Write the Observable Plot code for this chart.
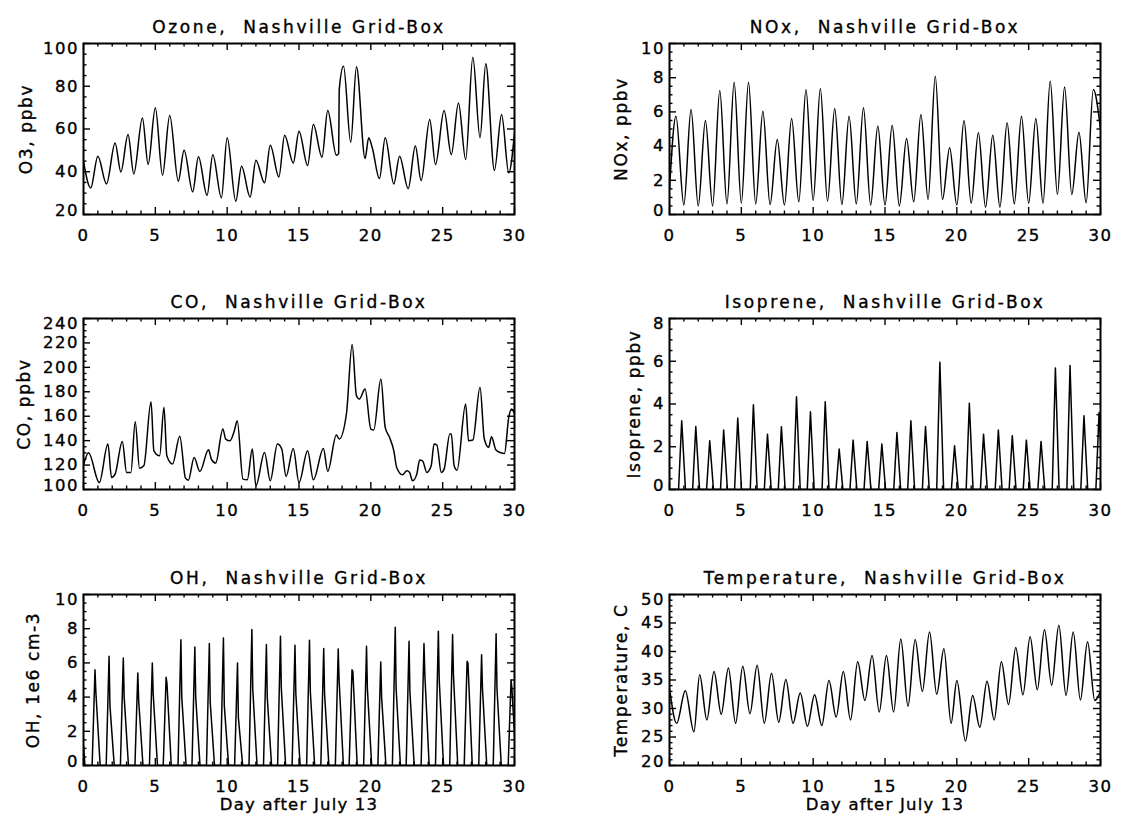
<!DOCTYPE html>
<html><head><meta charset="utf-8">
<script src="https://cdn.jsdelivr.net/npm/d3@7"></script>
<script src="https://cdn.jsdelivr.net/npm/@observablehq/plot@0.6"></script>
<style>
body{margin:0;background:#fff;}
#chart{position:relative;width:1125px;height:820px;background:#fff;overflow:hidden;}
#chart svg{position:absolute;}
#chart svg text{stroke:#000;stroke-width:0.35px;}
</style></head><body><div id="chart"></div>
<script>
// ---------- data ----------
const xTicks = [0, 5, 10, 15, 20, 25, 30];
const xTitle = "Day after July 13";

const ozoneDay = [0,0.5,1.0,1.6,2.2,2.6,3.1,3.5,4.1,4.5,5.0,5.5,6.0,6.6,7.0,7.6,8.0,8.6,9.0,9.6,10.0,10.6,11.0,11.6,12.0,12.6,13.0,13.6,14.0,14.6,15.0,15.6,16.0,16.6,17.0,17.6,17.76,17.8,18.1,18.6,19.0,19.6,19.85,20.1,20.6,21.0,21.6,22.0,22.6,23.1,23.5,24.1,24.5,25.1,25.6,26.1,26.6,27.1,27.6,28.0,28.6,29.1,29.6,30];
const ozoneVal = [44.9,32.4,47.3,34.3,53.5,39.9,57.4,39.0,65.2,43.4,69.9,38.4,66.3,35.6,50.1,30.6,47.0,29.0,48.0,27.8,55.9,26.2,42.6,28.1,45.4,34.8,52.4,37.6,57.1,44.1,59.0,42.9,62.1,46.8,68.6,47.7,48.5,78.5,89.4,53.8,89.1,46.2,55.9,51.2,36.8,55.9,34.3,47.3,32.1,52.0,35.9,64.4,43.4,68.6,48.0,72.2,45.7,93.6,55.9,90.5,40.6,66.8,39.5,58];
const ozoneTicks = [20, 40, 60, 80, 100];

const noxDay = [0,0.45,1,1.5,2,2.5,3,3.5,4,4.5,5,5.5,6,6.5,7,7.5,8,8.5,9,9.5,10,10.5,11,11.5,12,12.5,13,13.5,14,14.5,15,15.5,16,16.5,17,17.5,18,18.5,19,19.5,20,20.5,21,21.5,22,22.5,23,23.5,24,24.5,25,25.5,26,26.5,27,27.5,28,28.5,29,29.5,30];
const noxVal = [1.5,5.75,0.55,6.14,0.5,5.5,0.5,7.25,0.62,7.74,0.66,7.74,0.62,6.04,0.58,4.39,0.55,5.61,0.74,7.31,0.82,7.37,0.78,6.2,0.58,5.75,0.62,6.24,0.55,5.17,0.55,5.22,0.5,4.44,0.74,5.85,0.88,8.09,0.88,3.9,0.55,5.5,0.66,4.78,0.43,4.64,0.43,5.36,0.62,5.75,0.66,5.61,0.66,7.8,1.17,7.45,1.17,4.81,0.68,7.31,5.0];
const noxTicks = [0, 2, 4, 6, 8, 10];

const coDay = [0,0.35,1.1,1.7,1.95,2.2,2.7,3.0,3.3,3.6,3.9,4.2,4.7,4.9,5.3,5.6,5.8,6.2,6.7,7.1,7.3,7.7,8.1,8.7,8.9,9.2,9.7,9.9,10.2,10.5,10.7,11.1,11.4,11.75,12.0,12.6,13.0,13.5,13.8,14.1,14.6,15.0,15.6,16.0,16.7,17.0,17.6,17.8,18.3,18.7,19.0,19.2,19.6,20.0,20.2,20.7,21.0,21.3,21.6,21.8,22.2,22.5,22.7,22.9,23.2,23.4,23.6,23.9,24.2,24.4,24.6,24.9,25.1,25.5,25.6,25.8,26.0,26.6,26.8,27.1,27.6,27.9,28.2,28.4,28.7,29.0,29.3,29.6,29.8,30];
const coVal = [120,130,105.7,137.2,109.8,112.6,139.4,114,114,155.5,117.5,119.4,171.9,131.7,127.6,167.3,127.6,120.8,143.5,109.3,107.6,126.2,114.8,132.5,124.9,121.6,149.5,141.3,139.9,148.1,156.3,108.5,107.9,133.1,103,130.3,107.1,137.2,133.1,110.7,133.6,105.7,131.7,107.9,133.6,114.8,144.6,141.3,161.8,218.7,176.8,174.1,182.3,149.5,148.7,190.5,150.9,142.7,131.7,118,112,115.3,114,107.1,112.6,124.1,123.5,114,119.4,137.2,136.4,114,116.7,145.4,145.4,119.4,115.8,170,139.9,140.5,183.7,141.3,134.5,143.2,132.5,130.3,129.5,159,165.9,161.8];
const coTicks = [100, 120, 140, 160, 180, 200, 220, 240];

const isoPeakDay = [0.85,1.83,2.8,3.77,4.75,5.84,6.82,7.79,8.84,9.81,10.84,11.81,12.78,13.76,14.78,15.83,16.8,17.82,18.82,19.84,20.87,21.86,22.89,23.86,24.84,25.86,26.86,27.88,28.85,29.9];
const isoPeakVal = [3.22,2.95,2.28,2.78,3.34,3.97,2.59,2.94,4.34,3.64,4.11,1.89,2.31,2.25,2.13,2.67,3.22,2.95,5.95,2.05,4.03,2.59,2.78,2.52,2.31,2.25,5.69,5.8,3.45,3.6];
const isoNight = 0;
const isoTicks = [0, 2, 4, 6, 8];

const ohPeakDay = [0.8,1.78,2.77,3.78,4.79,5.75,6.78,7.75,8.76,9.74,10.72,11.72,12.73,13.71,14.72,15.73,16.72,17.73,18.69,19.7,20.69,21.7,22.66,23.7,24.7,25.69,26.7,27.71,28.72,29.76];
const ohPeakVal = [5.6,6.39,6.29,5.41,6.0,5.16,7.36,6.93,7.13,7.46,6.0,7.95,7.07,7.56,7.03,7.32,6.84,6.82,5.6,6.97,6.05,8.09,7.27,7.13,7.85,7.66,6.09,6.48,7.7,5.0];
const ohShoulderVal = [4.3,3.5,4.0,3.8,4.2,4.8,4.0,4.0,3.7,3.5,2.8,4.5,4.0,4.5,4.2,4.3,4.2,5.0,5.5,4.5,4.0,4.5,4.3,5.3,5.0,5.3,6.0,4.5,4.5,4.5];
const ohNight = 0;
const ohStart = 1.2;
const ohTicks = [0, 2, 4, 6, 8, 10];

const tempDay = [0,0.5,1.1,1.7,2.1,2.6,3.1,3.6,4.1,4.6,5.1,5.6,6.1,6.6,7.1,7.6,8.1,8.6,9.1,9.6,10.1,10.6,11.1,11.6,12.1,12.6,13.1,13.6,14.1,14.6,15.1,15.6,16.1,16.6,17.1,17.6,18.1,18.6,19.1,19.6,20.0,20.6,21.1,21.6,22.1,22.6,23.1,23.6,24.1,24.6,25.1,25.6,26.1,26.6,27.1,27.6,28.1,28.6,29.1,29.6,30];
const tempVal = [33.6,27.4,33.1,25.9,35.9,28.0,36.5,29.0,37.1,27.4,37.4,29.1,37.6,27.4,36.2,27.6,35.1,27.4,32.7,26.9,32.4,27.0,34.9,28.5,36.5,28.0,38.2,31.4,39.3,29.4,39.3,29.4,42.2,30.4,42.1,33.0,43.4,32.5,40.5,27.4,34.9,24.3,32.3,26.7,34.8,28.0,38.2,30.7,40.7,32.4,42.6,33.3,43.8,34.1,44.6,32.3,43.4,31.5,41.7,31.4,33];
const tempTicks = [20, 25, 30, 35, 40, 45, 50];

// ---------- build series ----------
const zipSeries = (days, vals) => days.map((d, i) => ({day: d, value: vals[i]}));
const ozone = zipSeries(ozoneDay, ozoneVal);
const nox = zipSeries(noxDay, noxVal);
const co = zipSeries(coDay, coVal);
const temp = zipSeries(tempDay, tempVal);
const iso = [{day: 0, value: isoNight}];
isoPeakDay.forEach((t, i) => {
  iso.push({day: t - 0.22, value: isoNight}, {day: t, value: isoPeakVal[i]}, {day: t + 0.26, value: isoNight});
});
const oh = [{day: 0, value: ohStart}, {day: 0.1, value: ohNight}];
ohPeakDay.forEach((t, i) => {
  oh.push({day: t - 0.2, value: ohNight}, {day: t, value: ohPeakVal[i]}, {day: t + 0.06, value: ohShoulderVal[i]}, {day: t + 0.36, value: ohNight});
});

// ---------- layout ----------
const FW = 431, FH = 171, MT = 43;
const xMinor = d3.range(0, 31).filter(d => d % 5 !== 0);
const chart = document.getElementById("chart");

function panel(p) {
  const col = p.col, row = p.row;
  const left = col === 0 ? 0 : 560;
  const width = col === 0 ? 560 : 565;
  const marginLeft = col === 0 ? 83 : 109;
  const marginRight = width - marginLeft - FW;
  const top = [0, 275, 551][row];
  const height = [275, 275, 269][row];
  const marginBottom = height - MT - FH;
  const yT = p.yTicks;
  const inner = yT.slice(1, -1);
  const tick = {stroke: "black", strokeWidth: 1.4};
  const marks = [
    Plot.line(p.series, {x: "day", y: "value", curve: p.curve, stroke: "black", strokeWidth: 1.5, clip: true}),
    Plot.ruleX(xTicks, {x: d => d, insetTop: FH - 7, ...tick}),
    Plot.ruleX(xTicks, {x: d => d, insetBottom: FH - 7, ...tick}),
    Plot.ruleX(xMinor, {x: d => d, insetTop: FH - 3.5, ...tick}),
    Plot.ruleX(xMinor, {x: d => d, insetBottom: FH - 3.5, ...tick}),
    Plot.ruleY(yT, {y: d => d, insetRight: FW - 7, ...tick}),
    Plot.ruleY(yT, {y: d => d, insetLeft: FW - 7, ...tick}),
    Plot.ruleY(p.yMinor, {y: d => d, insetRight: FW - 3.5, ...tick}),
    Plot.ruleY(p.yMinor, {y: d => d, insetLeft: FW - 3.5, ...tick}),
    Plot.frame({stroke: "black", strokeWidth: 2}),
    Plot.text(xTicks, {x: d => d, text: d => String(d), frameAnchor: "bottom", dy: 21, lineAnchor: "middle"}),
    Plot.text(inner, {y: d => d, text: d => String(d), frameAnchor: "left", textAnchor: "end", dx: -4.5, lineAnchor: "middle"}),
    Plot.text([yT[0]], {y: d => d, text: d => String(d), frameAnchor: "left", textAnchor: "end", dx: -4.5, dy: -4, lineAnchor: "middle"}),
    Plot.text([yT[yT.length - 1]], {y: d => d, text: d => String(d), frameAnchor: "left", textAnchor: "end", dx: -4.5, dy: 5, lineAnchor: "middle"}),
    Plot.text([p.title], {frameAnchor: "top", dy: -16, lineAnchor: "middle", fontSize: 17}),
    Plot.text([p.ylabel], {frameAnchor: "left", rotate: -90, dx: p.ylabelDx, textAnchor: "middle", lineAnchor: "middle", fontSize: 17})
  ];
  if (p.xLabel) marks.push(Plot.text([xTitle], {frameAnchor: "bottom", dy: 39, lineAnchor: "middle"}));
  const svg = Plot.plot({
    width, height, marginLeft, marginRight, marginTop: MT, marginBottom,
    x: {domain: [0, 30], axis: null},
    y: {domain: [yT[0], yT[yT.length - 1]], axis: null},
    style: {fontFamily: "'DejaVu Sans', sans-serif", fontSize: "16.5px", color: "black", background: "transparent", overflow: "visible"},
    marks
  });
  svg.style.left = left + "px";
  svg.style.top = top + "px";
  d3.select(svg).selectAll("text").each(function () {
    const t = this.textContent;
    if (t === p.title) this.style.letterSpacing = "2.6px";
    else if (t === p.ylabel) this.style.letterSpacing = "1.6px";
    else if (t === xTitle) this.style.letterSpacing = "1.2px";
    else this.style.letterSpacing = "1.5px";
  });
  chart.appendChild(svg);
}

panel({col: 0, row: 0, series: ozone, curve: "monotone-x", yTicks: ozoneTicks, yMinor: d3.range(25, 100, 5).filter(d => d % 20 !== 0),
  title: "Ozone,  Nashville Grid-Box", ylabel: "O3, ppbv", ylabelDx: -57});
panel({col: 1, row: 0, series: nox, curve: "monotone-x", yTicks: noxTicks, yMinor: d3.range(0.5, 10, 0.5).filter(d => d % 2 !== 0),
  title: "NOx,  Nashville Grid-Box", ylabel: "NOx, ppbv", ylabelDx: -48});
panel({col: 0, row: 1, series: co, curve: "monotone-x", yTicks: coTicks, yMinor: d3.range(105, 240, 5).filter(d => d % 20 !== 0),
  title: "CO,  Nashville Grid-Box", ylabel: "CO, ppbv", ylabelDx: -59});
panel({col: 1, row: 1, series: iso, curve: "linear", yTicks: isoTicks, yMinor: d3.range(0.5, 8, 0.5).filter(d => d % 2 !== 0),
  title: "Isoprene,  Nashville Grid-Box", ylabel: "Isoprene, ppbv", ylabelDx: -35});
panel({col: 0, row: 2, series: oh, curve: "linear", yTicks: ohTicks, yMinor: d3.range(0.5, 10, 0.5).filter(d => d % 2 !== 0),
  title: "OH,  Nashville Grid-Box", ylabel: "OH, 1e6 cm-3", ylabelDx: -50, xLabel: true});
panel({col: 1, row: 2, series: temp, curve: "monotone-x", yTicks: tempTicks, yMinor: d3.range(21, 50, 1).filter(d => d % 5 !== 0),
  title: "Temperature,  Nashville Grid-Box", ylabel: "Temperature, C", ylabelDx: -48, xLabel: true});
</script></body></html>
